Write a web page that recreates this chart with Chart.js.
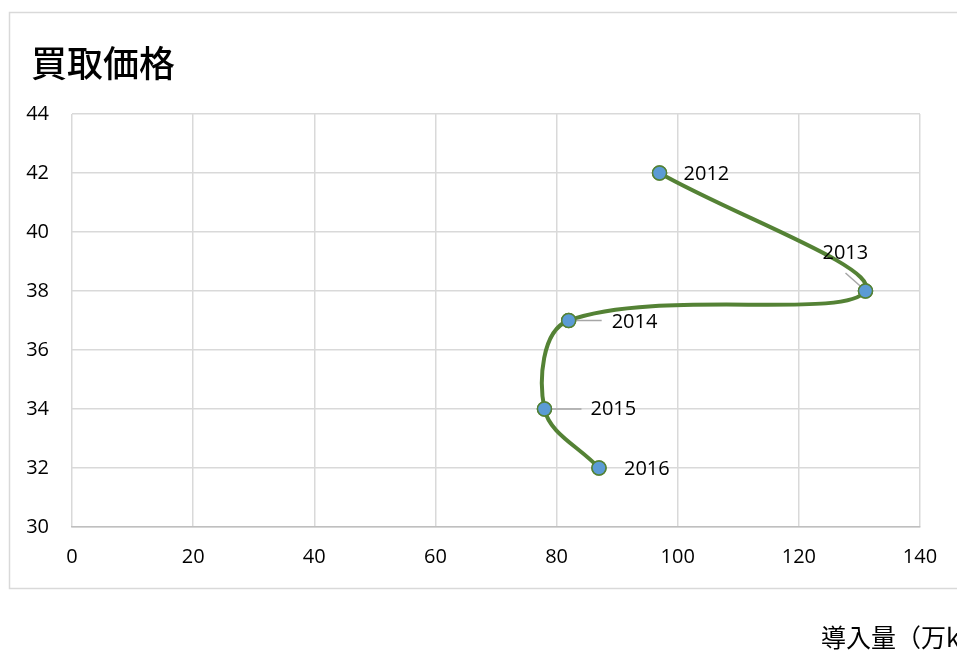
<!DOCTYPE html>
<html>
<head>
<meta charset="utf-8">
<script src="https://cdn.jsdelivr.net/npm/chart.js@4/dist/chart.umd.min.js"></script>
<style>
html,body{margin:0;padding:0;background:#fff;overflow:hidden;}
#wrap{position:relative;width:957px;height:651px;}
</style>
</head>
<body>
<div id="wrap"><canvas id="c" width="957" height="651"></canvas></div>
<script>
// ---- data ----
const years = ['2012', '2013', '2014', '2015', '2016'];
const installed = [97, 131, 82, 78, 87];     // 導入量
const price = [42, 38, 37, 34, 32];           // 買取価格
const xTicks = [0, 20, 40, 60, 80, 100, 120, 140];
const yTicks = [30, 32, 34, 36, 38, 40, 42, 44];
const chartTitle = '買取価格';
const xAxisTitle = '導入量（万kW）';

const points = installed.map((x, i) => ({ x: x, y: price[i] }));

// label placement (style only): dx, dy relative to point; leader line
const labelPlacement = [
  { dx: 24, dy: 1, leader: null },
  { dx: -43, dy: -38, leader: [-20, -18, -3, -3] },
  { dx: 43, dy: 2, leader: [0, 0, 33, 0] },
  { dx: 46, dy: 0, leader: [0, 0, 37, 0] },
  { dx: 25, dy: 1, leader: null }
];

const decor = {
  id: 'decor',
  beforeDraw(chart) {
    const ctx = chart.ctx;
    ctx.save();
    ctx.fillStyle = '#fff';
    ctx.fillRect(0, 0, chart.width, chart.height);
    ctx.strokeStyle = '#d9d9d9';
    ctx.lineWidth = 1.5;
    ctx.strokeRect(9.5, 12.5, 1000, 576);
    ctx.fillStyle = '#000';
    ctx.font = '500 36px "Noto Sans CJK JP"';
    ctx.textBaseline = 'middle';
    ctx.textAlign = 'left';
    ctx.fillText(chartTitle, 31, 63);
    ctx.font = '25px "Noto Sans CJK JP"';
    ctx.fillText(xAxisTitle, 821, 637);
    ctx.restore();
  },
  afterDatasetsDraw(chart) {
    const ctx = chart.ctx;
    const meta = chart.getDatasetMeta(0);
    ctx.save();
    meta.data.forEach((el, i) => {
      const p = labelPlacement[i];
      if (p.leader) {
        ctx.strokeStyle = '#a6a6a6';
        ctx.lineWidth = 1.5;
        ctx.beginPath();
        ctx.moveTo(el.x + p.leader[0], el.y + p.leader[1]);
        ctx.lineTo(el.x + p.leader[2], el.y + p.leader[3]);
        ctx.stroke();
      }
    });
    meta.data.forEach(el => el.draw(ctx));
    ctx.fillStyle = '#000';
    ctx.font = '20px "Open Sans"';
    ctx.textBaseline = 'middle';
    ctx.textAlign = 'left';
    meta.data.forEach((el, i) => {
      const p = labelPlacement[i];
      ctx.fillText(years[i], el.x + p.dx, el.y + p.dy);
    });
    ctx.restore();
  }
};

new Chart(document.getElementById('c'), {
  type: 'scatter',
  data: {
    datasets: [{
      data: points,
      showLine: true,
      tension: 0.36,
      borderColor: '#548235',
      borderWidth: 4,
      pointRadius: 7,
      pointHoverRadius: 7,
      pointBackgroundColor: '#5b9bd5',
      pointBorderColor: '#548235',
      pointBorderWidth: 1.5
    }]
  },
  options: {
    responsive: false,
    animation: false,
    events: [],
    layout: { padding: { left: 10, right: 37, top: 114, bottom: 84 } },
    plugins: { legend: { display: false }, tooltip: { enabled: false }, title: { display: false } },
    scales: {
      x: {
        type: 'linear',
        min: xTicks[0], max: xTicks[xTicks.length - 1],
        afterBuildTicks: s => { s.ticks = xTicks.map(v => ({ value: v })); },
        afterFit: s => { s.height = 40; },
        grid: { color: '#d9d9d9', lineWidth: 1.5, drawTicks: false },
        border: { color: '#bfbfbf', width: 1.5 },
        ticks: { color: '#000', font: { family: 'Open Sans', size: 20 }, padding: 18, maxRotation: 0 }
      },
      y: {
        type: 'linear',
        min: yTicks[0], max: yTicks[yTicks.length - 1],
        afterBuildTicks: s => { s.ticks = yTicks.map(v => ({ value: v })); },
        afterFit: s => { s.width = 62; },
        grid: { color: '#d9d9d9', lineWidth: 1.5, drawTicks: false },
        border: { display: false },
        ticks: { color: '#000', font: { family: 'Open Sans', size: 20 }, padding: 23 }
      }
    }
  },
  plugins: [decor]
});
</script>
</body>
</html>
